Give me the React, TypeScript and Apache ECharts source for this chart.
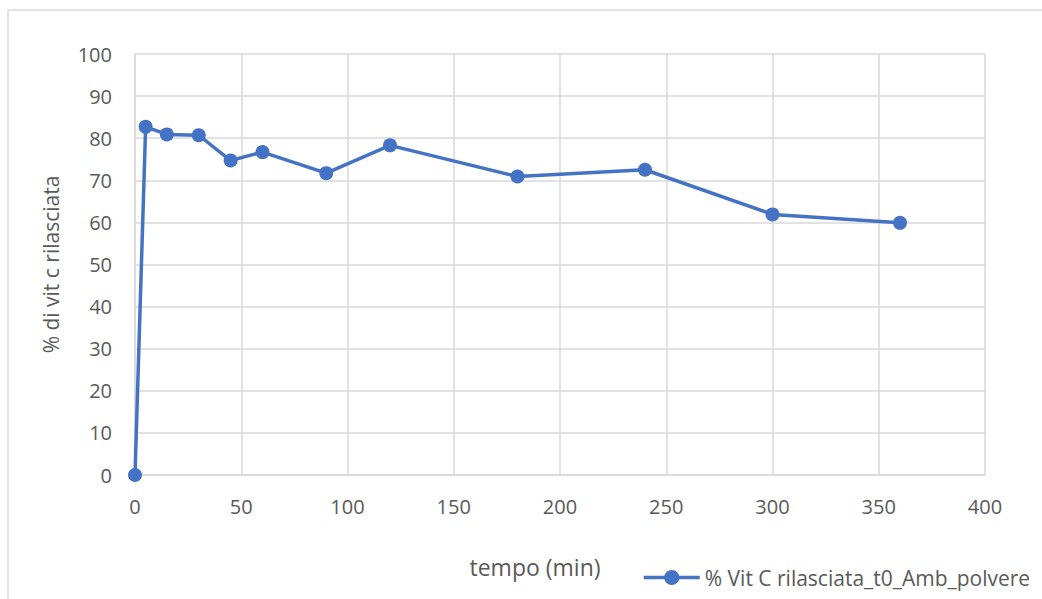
import React, { useEffect, useRef } from "react";
import * as echarts from "echarts";

const times = [0, 5, 15, 30, 45, 60, 90, 120, 180, 240, 300, 360];
const released = [0, 82.7, 80.9, 80.7, 74.7, 76.7, 71.7, 78.3, 70.9, 72.5, 61.9, 59.9];
const seriesName = "% Vit C rilasciata_t0_Amb_polvere";
const xTitle = "tempo (min)";
const yTitle = "% di vit c rilasciata";

const FONT = "Open Sans";
const TXT = "#595959";
const GRID = "#d9d9d9";
const BLUE = "#4472c4";

export default function App() {
  const ref = useRef<HTMLDivElement>(null);
  useEffect(() => {
    if (!ref.current) return;
    const chart = echarts.init(ref.current, undefined, { renderer: "svg" });
    chart.setOption({
      animation: false,
      backgroundColor: "#ffffff",
      textStyle: { fontFamily: FONT },
      graphic: [
        {
          type: "rect",
          shape: { x: 8, y: 10, width: 1200, height: 800 },
          style: { fill: "none", stroke: GRID, lineWidth: 1.5 },
          silent: true,
        },
        {
          type: "text",
          x: 535,
          y: 567,
          style: {
            text: xTitle,
            fontFamily: FONT,
            fontSize: 23,
            fill: TXT,
            align: "center",
            verticalAlign: "middle",
          },
          silent: true,
        },
      ],
      grid: { left: 135, right: 57, top: 54, bottom: 124, containLabel: false },
      legend: {
        left: 642,
        top: 567,
        padding: 0,
        itemWidth: 56,
        itemHeight: 19,
        itemGap: 4,
        lineStyle: { width: 3.5 },
        textStyle: { fontFamily: FONT, fontSize: 21, color: TXT },
        data: [seriesName],
      },
      xAxis: {
        type: "value",
        min: 0,
        max: 400,
        interval: 50,
        axisLine: { show: true, lineStyle: { color: GRID, width: 1.5 } },
        axisTick: { show: false },
        axisLabel: { fontFamily: FONT, fontSize: 20, color: TXT, margin: 21 },
        splitLine: { show: true, lineStyle: { color: GRID, width: 1.5 } },
      },
      yAxis: {
        type: "value",
        min: 0,
        max: 100,
        interval: 10,
        name: yTitle,
        nameLocation: "middle",
        nameGap: 74,
        nameTextStyle: { fontFamily: FONT, fontSize: 21, color: TXT },
        axisLine: { show: true, lineStyle: { color: GRID, width: 1.5 } },
        axisTick: { show: false },
        axisLabel: { fontFamily: FONT, fontSize: 20, color: TXT, margin: 23 },
        splitLine: { show: true, lineStyle: { color: GRID, width: 1.5 } },
      },
      series: [
        {
          name: seriesName,
          type: "line",
          data: times.map((t, i) => [t, released[i]]),
          symbol: "circle",
          symbolSize: 14,
          lineStyle: { color: BLUE, width: 3.5 },
          itemStyle: { color: BLUE },
        },
      ],
    });
    return () => chart.dispose();
  }, []);
  return (
    <div
      ref={ref}
      style={{ position: "fixed", left: 0, top: 0, width: 1042, height: 599 }}
    />
  );
}
